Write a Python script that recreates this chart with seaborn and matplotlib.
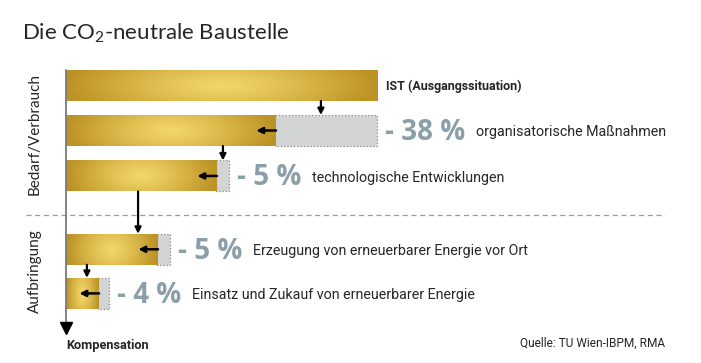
import numpy as np
import pandas as pd
import matplotlib
matplotlib.use("Agg")
import matplotlib.pyplot as plt
import matplotlib.colors as mcolors
import seaborn as sns

# data (bar lengths relative to IST = 100)
steps = ["IST (Ausgangssituation)", "organisatorische Maßnahmen", "technologische Entwicklungen",
         "Erzeugung von erneuerbarer Energie vor Ort", "Einsatz und Zukauf von erneuerbarer Energie"]
remaining = [100.0, 67.0, 48.1, 29.2, 10.3]
reduction = [0.0, 32.7, 4.2, 4.2, 3.5]
pct_labels = ["", "- 38 %", "- 5 %", "- 5 %", "- 4 %"]
arrow_x = [81.7, 50.3, 23.1, 6.7]
groups = ["Bedarf/Verbrauch", "Aufbringung"]

# layout
row_y = [1.90, 2.90, 3.91, 5.54, 6.52]
bar_h = 31 / 45
PX = 3.12
W, H = 701, 363

sns.set_style("white")
plt.rcParams["font.family"] = ["Lato", "DejaVu Sans"]
plt.rcParams["mathtext.fontset"] = "custom"
plt.rcParams["mathtext.rm"] = "Lato"
narrow = ["Liberation Sans Narrow", "Roboto", "DejaVu Sans"]

df = pd.DataFrame({"step": steps, "remaining": remaining, "reduction": reduction, "row": row_y})

fig = plt.figure(figsize=(W / 100, H / 100), dpi=100)
ax = fig.add_axes([0, 0, 1, 1])

width_par = bar_h / np.diff(sorted(row_y)).min()
sns.barplot(data=df, x="remaining", y="row", orient="y", native_scale=True, width=width_par,
            color="#d9b443", linewidth=0, errorbar=None, ax=ax)
gold = list(ax.containers[-1])

sub = df.iloc[1:]
width_par2 = bar_h / np.diff(sorted(sub["row"])).min()
sns.barplot(data=sub, x="reduction", y="row", orient="y", native_scale=True, width=width_par2,
            color="#d3d4d6", edgecolor="#8a8a8a", linewidth=0.9, linestyle=":", errorbar=None, ax=ax)
grey = list(ax.containers[-1])
for p, start in zip(grey, sub["remaining"]):
    p.set_x(start)
    p.set_facecolor("#d3d4d6")

# gold gradient (light centre, darker edges)
light = np.array(mcolors.to_rgb("#f3d66a"))
dark = np.array(mcolors.to_rgb("#bc9224"))
gx, gy = np.meshgrid(np.linspace(-1, 1, 200), np.linspace(-1, 1, 40))
d = np.clip(np.sqrt(gx ** 2 + 0.15 * gy ** 2), 0, 1) ** 1.2
img = light + (dark - light) * d[..., None]
for p in gold:
    x0, y0, w, h = p.get_x(), p.get_y(), p.get_width(), p.get_height()
    im = ax.imshow(img, extent=(x0, x0 + w, y0 + h, y0), aspect="auto", interpolation="bilinear",
                   zorder=p.get_zorder() + 0.1)
    im.set_clip_path(p)

# left arrows at the end of each reduced bar
for p in gold[1:]:
    end = p.get_x() + p.get_width()
    yc = p.get_y() + p.get_height() / 2
    ax.annotate("", xy=(end - 6.0, yc), xytext=(end + 0.3, yc),
                arrowprops=dict(arrowstyle="-|>", color="black", lw=1.8, mutation_scale=9,
                                shrinkA=0, shrinkB=0), zorder=5)

# down arrows between consecutive bars
for i, xa in enumerate(arrow_x):
    top = gold[i].get_y() + gold[i].get_height()
    bottom = gold[i + 1].get_y()
    ax.annotate("", xy=(xa, bottom), xytext=(xa, top),
                arrowprops=dict(arrowstyle="-|>", color="black", lw=1.6, mutation_scale=9,
                                shrinkA=0, shrinkB=0), zorder=5)

# vertical axis with arrow
ax.plot([0, 0], [gold[0].get_y(), 325 / 45], color="#7a7a7a", lw=1.3, zorder=4)
ax.plot(0, 328 / 45, marker="v", ms=9, color="black", zorder=4)

# separator
ysep = (gold[2].get_y() + gold[2].get_height() + gold[3].get_y()) / 2 + 0.05
ax.plot([-12.8, 192], [ysep, ysep], ls=(0, (4, 3)), color="#9a9a9a", lw=0.9)

# labels
ax.text(gold[0].get_width() + 2.6, row_y[0] + 0.03, steps[0], family=narrow, fontweight="bold",
        fontsize=9, va="center", ha="left")
for i in range(1, 5):
    end = remaining[i] + reduction[i]
    t = ax.text(end + 2.5, row_y[i] + 0.04, pct_labels[i], family=["Open Sans", "DejaVu Sans"],
                fontweight="bold", fontsize=20, color="#8b9fa9", va="center", ha="left")
    ax.annotate(steps[i], xy=(1, 0.5), xycoords=t, xytext=(7.5, 0), textcoords="offset points",
                family=narrow, fontsize=10.3, va="center", ha="left")

ax.text(-9.9, (gold[0].get_y() + gold[2].get_y() + gold[2].get_height()) / 2 + 0.08, groups[0],
        rotation=90, ha="center", va="center", fontsize=11)
ax.text(-9.9, (gold[3].get_y() + gold[4].get_y() + gold[4].get_height()) / 2, groups[1],
        rotation=90, ha="center", va="center", fontsize=11)

ax.text(0, 345.7 / 45, "Kompensation", family=narrow, fontweight="bold", fontsize=9.2,
        ha="left", va="center")
ax.text(192, 343 / 45, "Quelle: TU Wien-IBPM, RMA", family=narrow, fontsize=8.6,
        ha="right", va="center")

fig.text(22 / W, 1 - 39 / H, "Die CO$_\\mathregular{2}$-neutrale Baustelle", fontsize=16,
         ha="left", va="baseline")

ax.set_xlim(-66 / PX, (W - 66) / PX)
ax.set_ylim(H / 45, 0)
ax.axis("off")

fig.savefig("out.png", dpi=100)
